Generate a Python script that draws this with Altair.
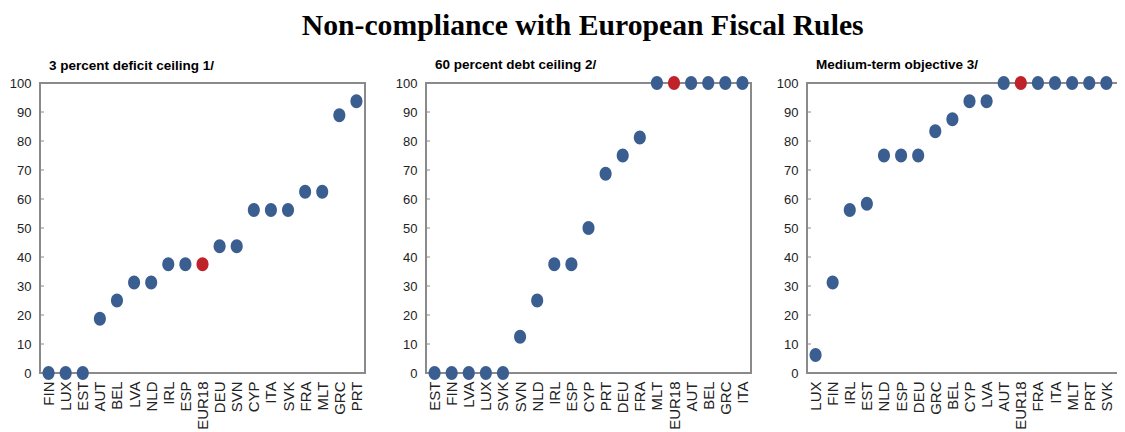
import altair as alt
import pandas as pd

main_title = "Non-compliance with European Fiscal Rules"

p1_title = "3 percent deficit ceiling 1/"
p1_countries = ["FIN", "LUX", "EST", "AUT", "BEL", "LVA", "NLD", "IRL", "ESP", "EUR18",
                "DEU", "SVN", "CYP", "ITA", "SVK", "FRA", "MLT", "GRC", "PRT"]
p1_values = [0, 0, 0, 18.75, 25, 31.25, 31.25, 37.5, 37.5, 37.5,
             43.75, 43.75, 56.25, 56.25, 56.25, 62.5, 62.5, 88.9, 93.75]

p2_title = "60 percent debt ceiling 2/"
p2_countries = ["EST", "FIN", "LVA", "LUX", "SVK", "SVN", "NLD", "IRL", "ESP", "CYP",
                "PRT", "DEU", "FRA", "MLT", "EUR18", "AUT", "BEL", "GRC", "ITA"]
p2_values = [0, 0, 0, 0, 0, 12.5, 25, 37.5, 37.5, 50,
             68.75, 75, 81.25, 100, 100, 100, 100, 100, 100]

p3_title = "Medium-term objective 3/"
p3_countries = ["LUX", "FIN", "IRL", "EST", "NLD", "ESP", "DEU", "GRC", "BEL", "CYP",
                "LVA", "AUT", "EUR18", "FRA", "ITA", "MLT", "PRT", "SVK", "SVN"]
p3_values = [6.25, 31.25, 56.25, 58.33, 75, 75, 75, 83.33, 87.5, 93.75,
             93.75, 100, 100, 100, 100, 100, 100, 100, 100]

y_ticks = list(range(0, 101, 10))

BLUE = "#3B5E91"
RED = "#C0222A"
FRAME = "#8A8A8A"
ELLIPSE = "M -0.86,0 A 0.86,1 0 1 1 0.86,0 A 0.86,1 0 1 1 -0.86,0 Z"
SANS = "Liberation Sans"


def panel(title, countries, values):
    df = pd.DataFrame({"country": countries, "value": values})
    tick_df = pd.DataFrame({"value": y_ticks})
    y_enc = alt.Y(
        "value:Q",
        title=None,
        scale=alt.Scale(domain=[0, 100], nice=False, zero=True),
        axis=alt.Axis(values=y_ticks, grid=False, ticks=False, domain=False,
                      labelFont=SANS, labelFontSize=13, labelColor="#222222",
                      labelPadding=9),
    )
    ticks = alt.Chart(tick_df).mark_rule(color=FRAME, strokeWidth=1).encode(
        x=alt.value(0), x2=alt.value(4), y=y_enc
    )
    pts = alt.Chart(df).mark_point(
        filled=True, opacity=1, shape=ELLIPSE, size=196, strokeWidth=0
    ).encode(
        x=alt.X(
            "country:N",
            sort=countries,
            title=None,
            scale=alt.Scale(type="point", padding=0.5),
            axis=alt.Axis(labelAngle=270, ticks=False, domain=False, grid=False,
                          labelFont=SANS, labelFontSize=15, labelColor="#222222",
                          labelPadding=8),
        ),
        y=y_enc,
        color=alt.condition(alt.datum.country == "EUR18", alt.value(RED), alt.value(BLUE)),
    )
    return alt.layer(ticks, pts).properties(
        width=325,
        height=290,
        title=alt.TitleParams(
            title, anchor="start", frame="group", dx=9, offset=5,
            font=SANS, fontSize=13.5, fontWeight="bold", color="#000000",
        ),
    )


p1 = panel(p1_title, p1_countries, p1_values)
p2 = panel(p2_title, p2_countries, p2_values)
p3 = panel(p3_title, p3_countries, p3_values)

chart = alt.hconcat(
    alt.hconcat(p1, p2, spacing=28),
    p3,
    spacing=23,
).properties(
    title=alt.TitleParams(
        main_title, anchor="middle", font="Liberation Serif",
        fontSize=29.7, fontWeight="bold", color="#000000", offset=8, dx=12, dy=-7,
    ),
    autosize=alt.AutoSizeParams(type="none"),
    padding={"left": 32, "top": 75, "right": 1077, "bottom": 335},
).configure_view(
    stroke=FRAME, strokeWidth=2
).configure_concat(spacing=25)

chart.save("out.html", embed_options={"renderer": "svg", "actions": False})
